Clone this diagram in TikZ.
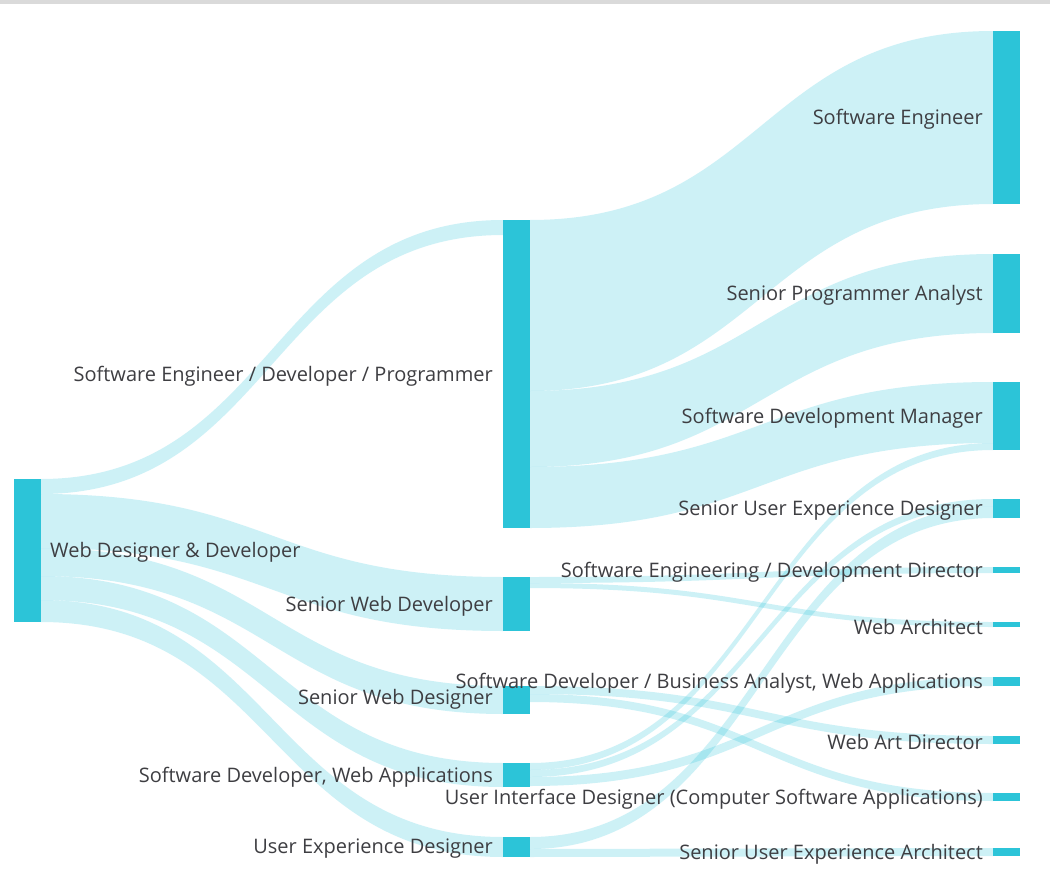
\documentclass[tikz,border=0pt]{standalone}
\usepackage{fontspec}
\setmainfont{Open Sans}
\usetikzlibrary{calc}
\definecolor{nodec}{RGB}{44,196,216}
\definecolor{flowc}{RGB}{40,195,220}
\definecolor{txtc}{RGB}{62,62,66}
\definecolor{topc}{RGB}{218,218,218}
% #1 source node, #2 offset from its top, #3 width at source,
% #4 target node, #5 offset from its top, #6 width at target
\newcommand\sankeyband[6]{%
  \fill[flow] let \p1=([yshift=-#2pt]#1.north east),
                  \p2=([yshift=-#5pt]#4.north west),
                  \p3=($(\p1)!0.5!(\p2)$) in
    (\x1,\y1) .. controls (\x3,\y1) and (\x3,\y2) .. (\x2,\y2)
    -- (\x2,\y2-#6pt) .. controls (\x3,\y2-#6pt) and (\x3,\y1-#3pt) .. (\x1,\y1-#3pt) -- cycle;}
\tikzset{
  bar/.style={fill=nodec, draw=none, inner sep=0pt, outer sep=0pt, minimum width=27pt, anchor=north west},
  flow/.style={fill=flowc, fill opacity=0.23},
  lbl/.style={text=txtc, inner sep=0pt, font=\fontsize{20}{24}\selectfont},
  lblr/.style={lbl, anchor=east},
  lbll/.style={lbl, anchor=west}
}
\begin{document}
\begin{tikzpicture}[x=1pt,y=-1pt]
\useasboundingbox (0,0) rectangle (1050,894);
\fill[white] (0,0) rectangle (1050,894);
\fill[topc] (0,0) rectangle (1050,4);

% column 0
\node[bar, minimum height=143pt] (wdd) at (14,479) {};
% column 1
\node[bar, minimum height=308pt] (sedp) at (503,220) {};
\node[bar, minimum height=54pt] (swd) at (503,577) {};
\node[bar, minimum height=28pt] (swdes) at (503,686) {};
\node[bar, minimum height=24pt] (sdwa) at (503,763) {};
\node[bar, minimum height=20pt] (uxd) at (503,837) {};
% column 2
\node[bar, minimum height=173pt] (se) at (993,31) {};
\node[bar, minimum height=79pt] (spa) at (993,254) {};
\node[bar, minimum height=68pt] (sdm) at (993,382) {};
\node[bar, minimum height=19pt] (suxd) at (993,499) {};
\node[bar, minimum height=6pt] (sedd) at (993,567) {};
\node[bar, minimum height=5pt] (wa) at (993,622) {};
\node[bar, minimum height=9pt] (sdba) at (993,677) {};
\node[bar, minimum height=8pt] (wad) at (993,736) {};
\node[bar, minimum height=8pt] (uid) at (993,793) {};
\node[bar, minimum height=8pt] (suxa) at (993,848) {};

% flows column 0 -> 1
\sankeyband{wdd}{0}{15}{sedp}{0}{15}
\sankeyband{wdd}{15}{54}{swd}{0}{54}
\sankeyband{wdd}{69}{28}{swdes}{0}{28}
\sankeyband{wdd}{97}{24}{sdwa}{0}{24}
\sankeyband{wdd}{121}{22}{uxd}{0}{20}
% flows column 1 -> 2
\sankeyband{sedp}{0}{171}{se}{0}{173}
\sankeyband{sedp}{171}{76}{spa}{0}{79}
\sankeyband{sedp}{247}{61}{sdm}{0}{61}
\sankeyband{swd}{0}{6}{sedd}{0}{6}
\sankeyband{swd}{6}{5}{wa}{0}{5}
\sankeyband{swdes}{0}{8}{wad}{0}{8}
\sankeyband{swdes}{8}{8}{uid}{0}{8}
\sankeyband{sdwa}{0}{7}{sdm}{61}{7}
\sankeyband{sdwa}{7}{7}{suxd}{0}{7}
\sankeyband{sdwa}{14}{9}{sdba}{0}{9}
\sankeyband{uxd}{0}{12}{suxd}{7}{12}
\sankeyband{uxd}{12}{8}{suxa}{0}{8}

% bars on top of flows
\foreach \n in {wdd,sedp,swd,swdes,sdwa,uxd,se,spa,sdm,suxd,sedd,wa,sdba,wad,uid,suxa}
  \fill[nodec] (\n.north west) rectangle (\n.south east);

% labels
\node[lbll] (lwdd) at ([xshift=9pt,yshift=-2pt]wdd.east) {Web Designer \& Developer};
\node[lblr] (lsedp) at ([xshift=-10pt,yshift=-2pt]sedp.west) {Software Engineer / Developer / Programmer};
\node[lblr] (lswd) at ([xshift=-10pt,yshift=-2pt]swd.west) {Senior Web Developer};
\node[lblr] (lswdes) at ([xshift=-10pt,yshift=1pt]swdes.west) {Senior Web Designer};
\node[lblr] (lsdwa) at ([xshift=-10pt,yshift=-2pt]sdwa.west) {Software Developer, Web Applications};
\node[lblr] (luxd) at ([xshift=-10pt,yshift=-2pt]uxd.west) {User Experience Designer};
\node[lblr] (lse) at ([xshift=-10pt,yshift=-2pt]se.west) {Software Engineer};
\node[lblr] (lspa) at ([xshift=-10pt,yshift=-2pt]spa.west) {Senior Programmer Analyst};
\node[lblr] (lsdm) at ([xshift=-10pt,yshift=-2pt]sdm.west) {Software Development Manager};
\node[lblr] (lsuxd) at ([xshift=-10pt,yshift=-2pt]suxd.west) {Senior User Experience Designer};
\node[lblr] (lsedd) at ([xshift=-10pt,yshift=-2pt]sedd.west) {Software Engineering / Development Director};
\node[lblr] (lwa) at ([xshift=-10pt,yshift=-2pt]wa.west) {Web Architect};
\node[lblr] (lsdba) at ([xshift=-10pt,yshift=-2pt]sdba.west) {Software Developer / Business Analyst, Web Applications};
\node[lblr] (lwad) at ([xshift=-10pt,yshift=-2pt]wad.west) {Web Art Director};
\node[lblr] (luid) at ([xshift=-10pt,yshift=-2pt]uid.west) {User Interface Designer (Computer Software Applications)};
\node[lblr] (lsuxa) at ([xshift=-10pt,yshift=-2pt]suxa.west) {Senior User Experience Architect};
\end{tikzpicture}
\end{document}
